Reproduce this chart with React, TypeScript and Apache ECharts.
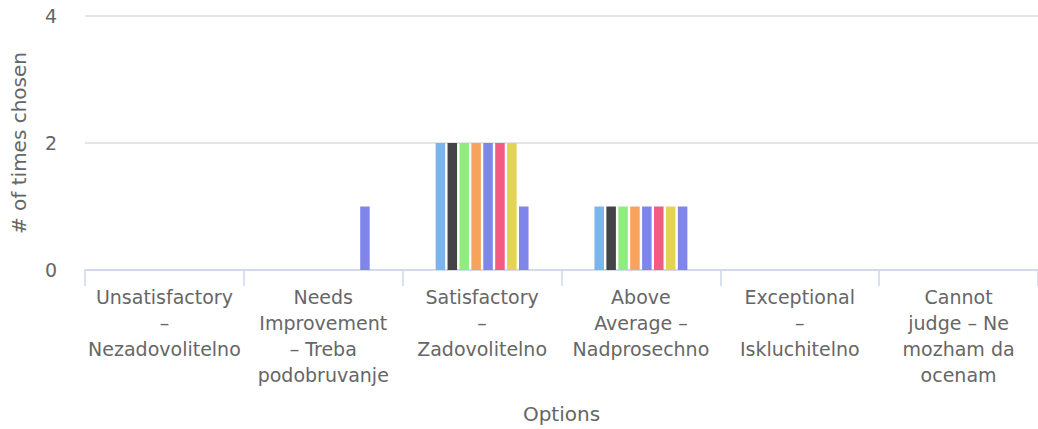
import React, { useEffect, useRef } from "react";
import * as echarts from "echarts";

// Rating options shown on the x axis (line breaks as displayed)
const categories = [
  "Unsatisfactory\n–\nNezadovolitelno",
  "Needs\nImprovement\n– Treba\npodobruvanje",
  "Satisfactory\n–\nZadovolitelno",
  "Above\nAverage –\nNadprosechno",
  "Exceptional\n–\nIskluchitelno",
  "Cannot\njudge – Ne\nmozham da\nocenam",
];

// Number of times each option was chosen, one array per question
const q1 = [0, 0, 2, 1, 0, 0];
const q2 = [0, 0, 2, 1, 0, 0];
const q3 = [0, 0, 2, 1, 0, 0];
const q4 = [0, 0, 2, 1, 0, 0];
const q5 = [0, 0, 2, 1, 0, 0];
const q6 = [0, 0, 2, 1, 0, 0];
const q7 = [0, 0, 2, 1, 0, 0];
const q8 = [0, 1, 1, 1, 0, 0];

const seriesData = [q1, q2, q3, q4, q5, q6, q7, q8];
const seriesNames = ["Q1", "Q2", "Q3", "Q4", "Q5", "Q6", "Q7", "Q8"];
const palette = [
  "#7cb5ec",
  "#434348",
  "#90ed7d",
  "#f7a35c",
  "#8085e9",
  "#f15c80",
  "#e4d354",
  "#8085e9",
];

const yTicks = { min: 0, max: 4, interval: 2 };

const FONT = "DejaVu Sans";

export default function App() {
  const ref = useRef<HTMLDivElement>(null);

  useEffect(() => {
    if (!ref.current) return;
    const chart = echarts.init(ref.current, undefined, { renderer: "svg" });
    chart.setOption({
      animation: false,
      grid: { left: 85, right: 0, top: 16, bottom: 159, containLabel: false },
      xAxis: {
        type: "category",
        data: categories,
        name: "Options",
        nameLocation: "middle",
        nameGap: 134,
        nameTextStyle: { color: "#666666", fontSize: 20, fontFamily: FONT },
        axisLine: { show: true, lineStyle: { color: "#ccd6eb", width: 1.5 } },
        axisTick: {
          show: true,
          alignWithLabel: false,
          length: 16,
          lineStyle: { color: "#ccd6eb", width: 1.5 },
        },
        axisLabel: {
          color: "#666666",
          fontSize: 19,
          fontFamily: FONT,
          lineHeight: 26,
          margin: 14,
          interval: 0,
        },
      },
      yAxis: {
        type: "value",
        min: yTicks.min,
        max: yTicks.max,
        interval: yTicks.interval,
        name: "# of times chosen",
        nameLocation: "middle",
        nameGap: 56,
        nameTextStyle: { color: "#666666", fontSize: 20, fontFamily: FONT },
        axisLine: { show: false },
        axisTick: { show: false },
        axisLabel: {
          color: "#666666",
          fontSize: 19,
          fontFamily: FONT,
          margin: 28,
        },
        splitLine: { lineStyle: { color: "#dcdcdc", width: 1.5 } },
      },
      series: seriesData.map((d, i) => ({
        type: "bar",
        name: seriesNames[i],
        data: d,
        barGap: "25%",
        barCategoryGap: "41.5%",
        itemStyle: { color: palette[i] },
      })),
    });
    return () => chart.dispose();
  }, []);

  return (
    <div
      ref={ref}
      style={{ position: "absolute", left: 0, top: 0, width: 1038, height: 429 }}
    />
  );
}
